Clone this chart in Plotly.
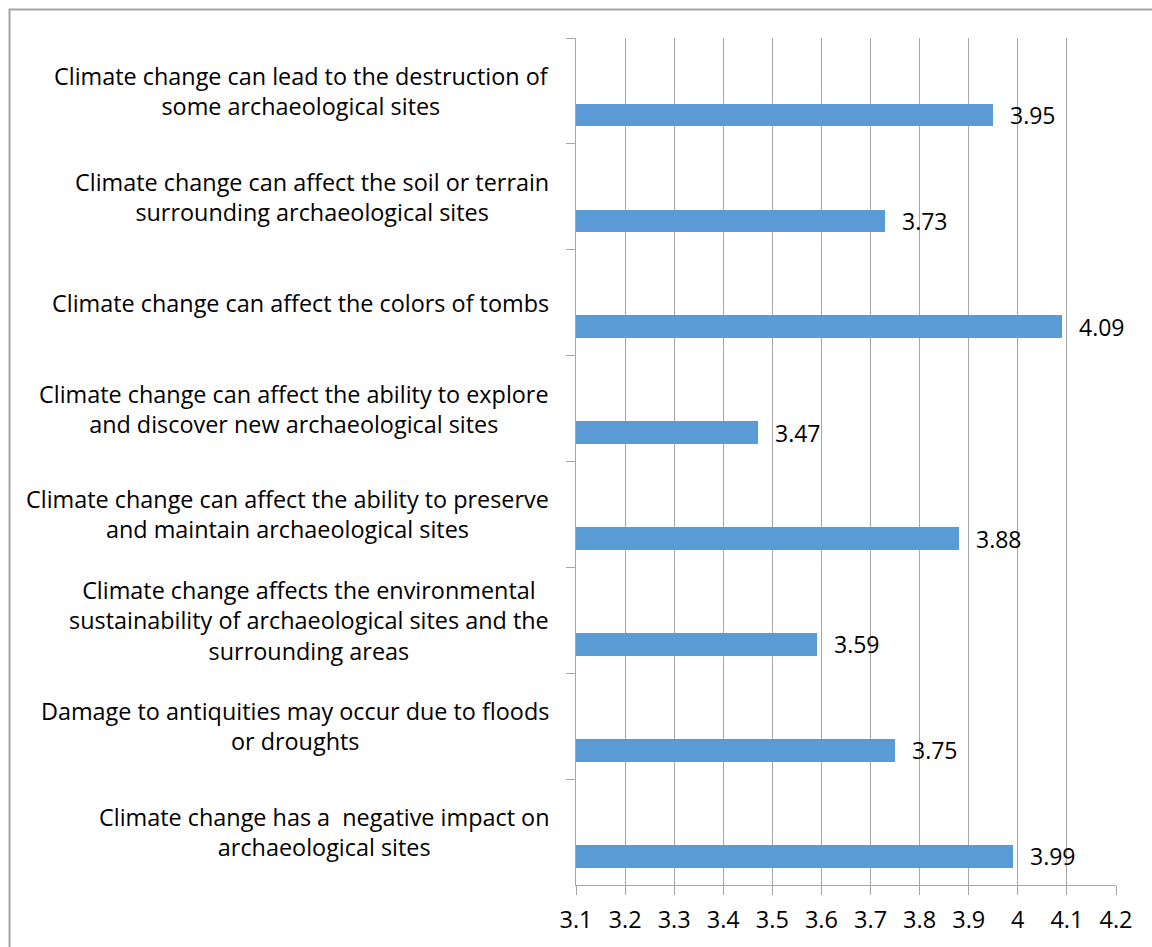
import plotly.graph_objects as go

categories = [
    "Climate change can lead to the destruction of<br>some archaeological sites",
    "Climate change can affect the soil or terrain<br>surrounding archaeological sites",
    "Climate change can affect the colors of tombs",
    "Climate change can affect the ability to explore<br>and discover new archaeological sites",
    "Climate change can affect the ability to preserve<br>and maintain archaeological sites",
    "Climate change affects the environmental<br>sustainability of archaeological sites and the<br>surrounding areas",
    "Damage to antiquities may occur due to floods<br>or droughts",
    "Climate change has a  negative impact on<br>archaeological sites",
]
values = [3.95, 3.73, 4.09, 3.47, 3.88, 3.59, 3.75, 3.99]
value_labels = ["3.95", "3.73", "4.09", "3.47", "3.88", "3.59", "3.75", "3.99"]
tick_vals = [3.1, 3.2, 3.3, 3.4, 3.5, 3.6, 3.7, 3.8, 3.9, 4.0, 4.1, 4.2]
tick_text = ["3.1", "3.2", "3.3", "3.4", "3.5", "3.6", "3.7", "3.8", "3.9", "4", "4.1", "4.2"]

FONT = "Open Sans"
GRID = "#a6a6a6"
BAR_OFFSET = 0.12
BAR_WIDTH = 0.215

fig = go.Figure()
fig.add_trace(go.Bar(
    y=categories,
    x=values,
    orientation="h",
    marker=dict(color="#5b9bd5", line=dict(width=0)),
    offset=BAR_OFFSET,
    width=BAR_WIDTH,
    hoverinfo="x+y",
))

W, H = 1152, 947
ml, mr, mt, mb = 576, 36, 38, 62
band_px = (H - mt - mb) / len(categories)

annotations = []
for cat in categories:
    annotations.append(dict(
        xref="paper", yref="y", x=0, y=cat, xshift=-25,
        xanchor="right", yanchor="middle", align="center",
        text=cat, showarrow=False,
        font=dict(family=FONT, size=23.4, color="#000000"),
    ))
for cat, v, lab in zip(categories, values, value_labels):
    annotations.append(dict(
        xref="x", yref="y", x=v, y=cat, xshift=15,
        yshift=-(BAR_OFFSET + BAR_WIDTH / 2) * band_px,
        xanchor="left", yanchor="middle",
        text=lab, showarrow=False,
        font=dict(family=FONT, size=23, color="#000000"),
    ))

pw = W - ml - mr
ph = H - mt - mb
shapes = [dict(
    type="rect", xref="paper", yref="paper",
    x0=(9.5 - ml) / pw, x1=(W + 20 - ml) / pw,
    y0=-(H + 20 - (H - mb)) / ph, y1=(H - mb - 9.5) / ph,
    line=dict(color="#a6a6a6", width=2), fillcolor="rgba(0,0,0,0)", layer="below",
)]

fig.update_layout(
    width=W, height=H,
    margin=dict(l=ml, r=mr, t=mt, b=mb, pad=0),
    paper_bgcolor="white", plot_bgcolor="white",
    showlegend=False,
    font=dict(family=FONT, size=23, color="#000000"),
    annotations=annotations,
    shapes=shapes,
    bargap=0,
)
fig.update_xaxes(
    range=[3.1, 4.2],
    tickvals=tick_vals, ticktext=tick_text,
    showgrid=True, gridcolor=GRID, gridwidth=1,
    showline=True, linecolor=GRID, linewidth=1,
    ticks="outside", ticklen=9, tickcolor=GRID, tickwidth=1,
    ticklabelstandoff=5,
    tickfont=dict(family=FONT, size=23.5, color="#000000"),
    zeroline=False, fixedrange=True,
)
fig.update_yaxes(
    autorange="reversed",
    showticklabels=False,
    showgrid=False,
    showline=True, linecolor=GRID, linewidth=1,
    ticks="outside", ticklen=9, tickcolor=GRID, tickwidth=1,
    tickson="boundaries",
    zeroline=False, fixedrange=True,
)

fig.write_html("out.html")
